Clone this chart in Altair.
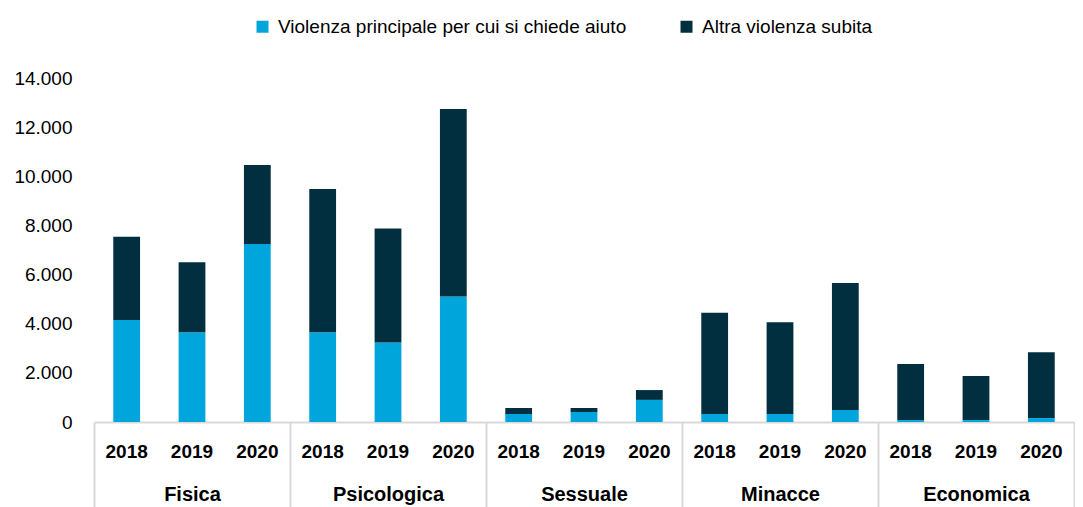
import altair as alt
import pandas as pd

categories = ["Fisica", "Psicologica", "Sessuale", "Minacce", "Economica"]
years = ["2018", "2019", "2020"]
series = ["Violenza principale per cui si chiede aiuto", "Altra violenza subita"]
principale = [4150, 3650, 7240, 3650, 3240, 5110, 330, 410, 900, 330, 330, 490, 80, 80, 160]
altra = [3390, 2850, 3220, 5830, 4640, 7630, 240, 160, 400, 4120, 3730, 5170, 2280, 1790, 2680]
colors = ["#00A6DB", "#022F3F"]

FONT = "Liberation Sans, Arial"

rows = []
keys = []
i = 0
for c in categories:
    for y in years:
        k = c + "|" + y
        keys.append(k)
        rows.append({"cat": c, "year": y, "key": k, "serie": series[0], "ord": 0, "value": principale[i]})
        rows.append({"cat": c, "year": y, "key": k, "serie": series[1], "ord": 1, "value": altra[i]})
        i += 1
df = pd.DataFrame(rows)

H = 344
W = 980

bars = alt.Chart(df).mark_bar().encode(
    x=alt.X("key:N", title=None, sort=keys,
            scale=alt.Scale(paddingInner=0.59, paddingOuter=0.295),
            axis=alt.Axis(orient="bottom", labelAngle=0, labelFontWeight="bold", labelFontSize=19,
                          labelExpr="split(datum.value, '|')[1]",
                          labelPadding=20, ticks=False, domainColor="#D9D9D9",
                          domainWidth=2, labelColor="black", labelFont=FONT)),
    y=alt.Y("value:Q", title=None, stack="zero",
            scale=alt.Scale(domain=[0, 14000]),
            axis=alt.Axis(values=[0, 2000, 4000, 6000, 8000, 10000, 12000, 14000],
                          labelExpr="replace(format(datum.value, ',d'), ',', '.')",
                          grid=False, ticks=False, domain=False, labelFontSize=19,
                          labelPadding=22, labelColor="black", labelFont=FONT)),
    color=alt.Color("serie:N", title=None,
                    scale=alt.Scale(domain=series, range=colors),
                    legend=alt.Legend(orient="none", direction="horizontal",
                                      legendX=159, legendY=-61,
                                      symbolType="square", symbolSize=144,
                                      labelFontSize=19, labelFont=FONT, labelLimit=600,
                                      labelColor="black", columnPadding=50,
                                      labelOffset=6, symbolStrokeWidth=0)),
    order=alt.Order("ord:Q", sort="ascending"),
)

groups = alt.Chart(df).mark_point(opacity=0, size=1).encode(
    x=alt.X("cat:N", title=None, sort=categories,
            scale=alt.Scale(paddingInner=0, paddingOuter=0),
            axis=alt.Axis(orient="bottom", offset=0, labelAngle=0, labelFontWeight="bold",
                          labelFontSize=20, domain=False, ticks=True, tickBand="extent",
                          tickSize=90, tickColor="#D9D9D9", tickWidth=2, labelPadding=-28,
                          labelColor="black", labelFont=FONT)),
    y=alt.value(H),
)

chart = alt.layer(bars, groups).resolve_scale(x="independent").properties(
    width=W, height=H,
    padding={"left": 5, "top": 9, "right": 0, "bottom": 0},
).configure(font=FONT).configure_view(stroke=None)

chart.save("out.html", embed_options={"renderer": "svg", "actions": False})
